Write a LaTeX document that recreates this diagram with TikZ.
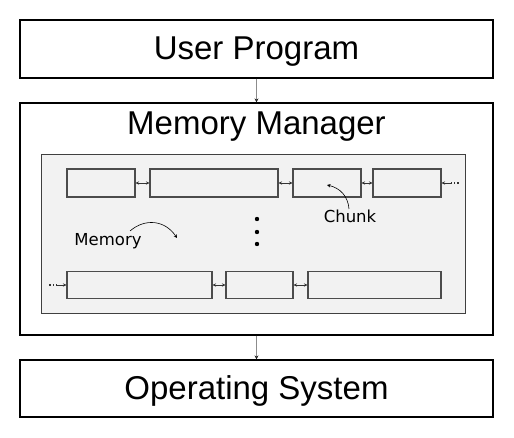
\documentclass[tikz,border=0pt]{standalone}
\usepackage{fontspec}
\setmainfont{Liberation Sans}
\newfontfamily\labelfont{DejaVu Sans}
\usetikzlibrary{arrows.meta}

\begin{document}
\begin{tikzpicture}[x=1pt, y=-1pt, >={Stealth[length=3.5pt, width=3.5pt]},
  layer/.style={draw=black, line width=1.2pt, minimum width=473pt, inner sep=0pt},
  title/.style={font=\fontsize{33}{36}\selectfont, anchor=base, inner sep=0pt},
  chunk/.style={draw=black!70, fill=black!5, line width=1.1pt, inner sep=0pt},
  link/.style={<->, black!80, semithick},
  down/.style={-{Stealth[length=4pt, width=4pt, color=black!85]}, black!45, line width=0.9pt},
  tail/.style={black!80, dotted, line width=1.2pt},
  lab/.style={font=\labelfont\fontsize{16.5}{18}\selectfont, anchor=base, inner sep=0pt},
  pointer/.style={->, semithick}]
  \useasboundingbox (0,0) rectangle (514,438);
  \node[layer, minimum height=58pt] (user) at (256.5,49) {};
  \node[layer, minimum height=232pt] (mm) at (256.5,219) {};
  \node[layer, minimum height=57pt] (os) at (256.5,388.5) {};
  \node[title] (usertitle) at (256.5,60) {User Program};
  \node[title] (mmtitle) at (256.5,135) {Memory Manager};
  \node[title] (ostitle) at (256.5,399) {Operating System};
  \draw[down] (user) -- (mm);
  \draw[down] (mm) -- (os);
  \node[draw=black!75, fill=black!5, line width=1pt, minimum width=424pt, minimum height=159pt] (heap) at (253,234.5) {};
  \foreach \n/\x/\w in {c1/101/68, c2/214/128, c3/327/68, c4/407/68}
    \node[chunk, minimum width=\w pt, minimum height=28pt] (\n) at (\x,183) {};
  \foreach \n/\x/\w in {b1/139.5/145, b2/259.5/67, b3/374.5/133}
    \node[chunk, minimum width=\w pt, minimum height=27pt] (\n) at (\x,285) {};
  \foreach \a/\b in {c1/c2, c2/c3, c3/c4, b1/b2, b2/b3}
    \draw[link] (\a) -- (\b);
  \coordinate (toptail) at (451,183);
  \coordinate (toptailend) at (460,183);
  \draw[->, black!80, semithick] (toptail) -- (c4);
  \draw[tail] (toptail) -- (toptailend);
  \coordinate (bottail) at (57,285);
  \coordinate (bottailend) at (48,285);
  \draw[->, black!80, semithick] (bottail) -- (b1);
  \draw[tail] (bottail) -- (bottailend);
  \foreach \y in {219,232,244}
    \fill (257,\y) circle (2.2pt);
  \node[lab] (memlab) at (108,246) {Memory};
  \coordinate (memfrom) at (130,231);
  \coordinate (memto) at (177,238);
  \draw[pointer] (memfrom) .. controls (145,218) and (165,220) .. (memto);
  \node[lab] (chunklab) at (350,223) {Chunk};
  \coordinate (chunkfrom) at (349,209);
  \coordinate (chunkto) at (327,185);
  \draw[pointer] (chunkfrom) .. controls (348,196) and (340,188) .. (chunkto);
\end{tikzpicture}
\end{document}
